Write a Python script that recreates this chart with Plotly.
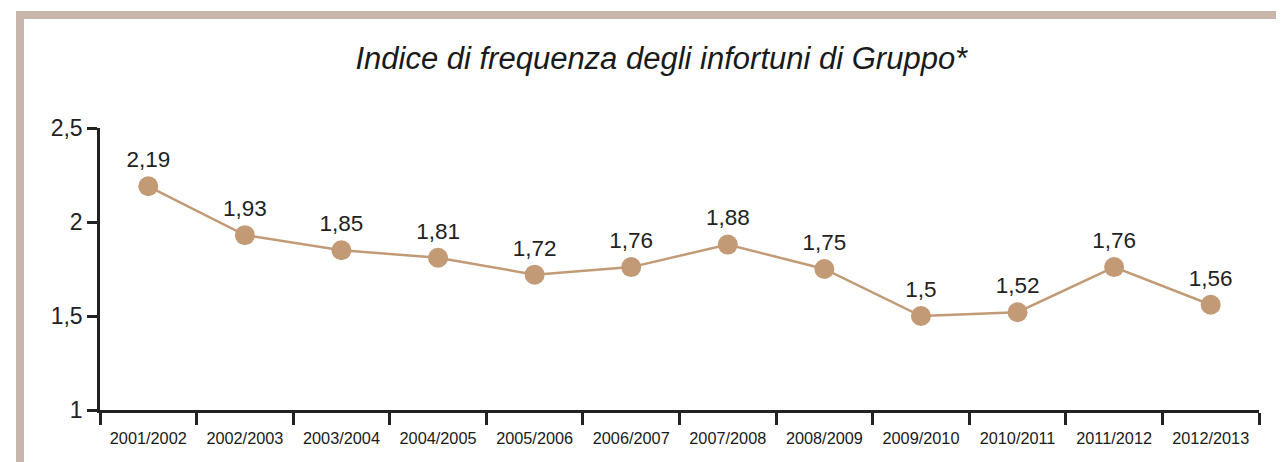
import plotly.graph_objects as go

# annual group injury frequency index
seasons = ['2001/2002', '2002/2003', '2003/2004', '2004/2005', '2005/2006', '2006/2007',
           '2007/2008', '2008/2009', '2009/2010', '2010/2011', '2011/2012', '2012/2013']
index_values = [2.19, 1.93, 1.85, 1.81, 1.72, 1.76, 1.88, 1.75, 1.5, 1.52, 1.76, 1.56]
y_ticks = [1, 1.5, 2, 2.5]

line_colour = '#c29b76'
frame_colour = '#c8b6ad'
axis_colour = '#222222'

fig = go.Figure()

fig.add_trace(
    go.Scatter(
        x = seasons,
        y = index_values,
        mode = 'lines+markers+text',
        line = dict(color = line_colour, width = 2.5),
        marker = dict(color = line_colour, size = 20),
        texttemplate = '%{y}',
        textposition = 'top center',
        textfont = dict(size = 22.5, color = '#222222'),
        cliponaxis = False,
        hoverinfo = 'skip'
    )
)

# frame round the chart (left and top edges)
fig.add_shape(type = 'path',
              xref = 'paper', yref = 'paper',
              path = 'M -0.069,-0.25 L -0.069,1.4007 L 1.05,1.4007',
              line = dict(color = frame_colour, width = 8))

# page body has an 8px margin, so the figure is a bit smaller than the window
fig.update_layout(
    width = 1276, height = 454,
    margin = dict(l = 92, r = 25, t = 120, b = 52),
    paper_bgcolor = 'white', plot_bgcolor = 'white',
    separators = ', ',
    showlegend = False,
    font = dict(family = 'Liberation Sans, Arial, sans-serif', color = axis_colour),
    title = dict(text = '<i>Indice di frequenza degli infortuni di Gruppo*</i>',
                 x = 0.512, xanchor = 'center', y = 0.89, yanchor = 'middle',
                 font = dict(size = 31, color = '#1a1a1a')),
    xaxis = dict(type = 'category', tickson = 'boundaries', ticks = 'outside',
                 ticklen = 12, tickwidth = 2.5, tickcolor = axis_colour,
                 showline = True, linecolor = axis_colour, linewidth = 2.5,
                 showgrid = False, zeroline = False,
                 ticklabelstandoff = 12,
                 tickfont = dict(size = 16.3, color = '#1a1a1a'),
                 range = [-0.5, 11.5]),
    yaxis = dict(range = [1, 2.5], tickvals = y_ticks, ticks = 'outside',
                 ticklen = 10, tickwidth = 2.5, tickcolor = axis_colour,
                 showline = True, linecolor = axis_colour, linewidth = 2.5,
                 showgrid = False, zeroline = False,
                 tickfont = dict(size = 23, color = '#222222'))
)

fig.write_html('out.html')
